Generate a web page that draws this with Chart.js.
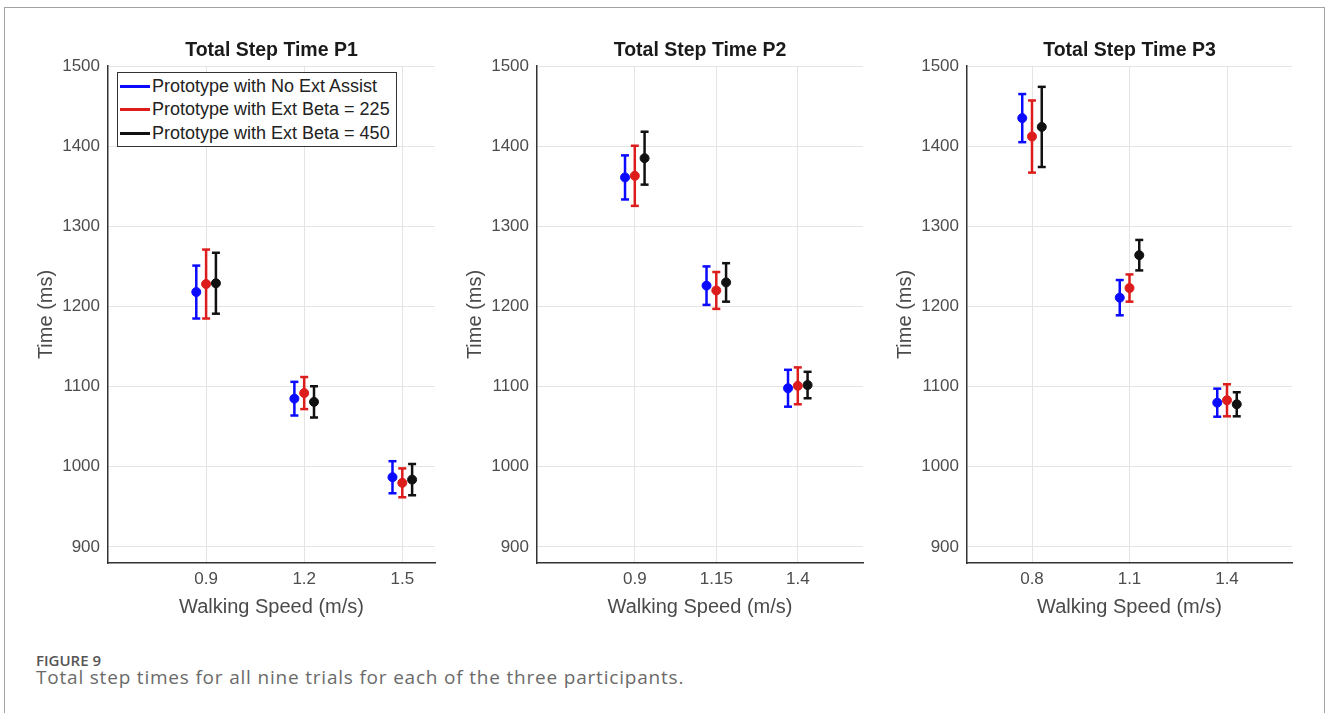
<!DOCTYPE html>
<html>
<head>
<meta charset="utf-8">
<script src="https://cdn.jsdelivr.net/npm/chart.js@4.4.1/dist/chart.umd.min.js"></script>
<style>
  html, body { margin: 0; padding: 0; background: #fff; }
  body { width: 1328px; height: 713px; position: relative; overflow: hidden; }
  .frame {
    position: absolute; left: 4px; top: 7px; width: 1321px; height: 740px;
    border: 1.5px solid #a3a3a3; border-bottom: none; box-sizing: border-box;
  }
  canvas { position: absolute; top: 20px; }
  .legend {
    position: absolute; left: 117px; top: 72px; width: 280px; height: 75px;
    border: 1.5px solid #333; box-sizing: border-box; background: #fff;
    padding-top: 2px;
    font-family: "Liberation Sans", Arial, sans-serif; font-size: 18px; color: #222;
  }
  .legend .row { height: 23.3px; display: flex; align-items: center; white-space: nowrap; }
  .legend .swatch { width: 30px; height: 3px; margin-left: 2px; margin-right: 2px; }
  .fig-label {
    position: absolute; left: 36px; top: 650px;
    font-family: "Open Sans", sans-serif; font-size: 15px; font-weight: 600; color: #555;
  }
  .fig-caption {
    position: absolute; left: 36px; top: 664px; white-space: nowrap;
    font-family: "Open Sans", sans-serif; font-size: 19px; letter-spacing: 0.8px; color: #6a6a6a;
  }
</style>
</head>
<body>
<div class="frame"></div>
<canvas id="p1" width="425" height="620" style="left:20px"></canvas>
<canvas id="p2" width="424" height="620" style="left:449px"></canvas>
<canvas id="p3" width="423" height="620" style="left:879px"></canvas>
<div class="legend" id="legend"></div>
<div class="fig-label">FIGURE 9</div>
<div class="fig-caption">Total step times for all nine trials for each of the three participants.</div>

<script>
// series names
const seriesNames = ['Prototype with No Ext Assist', 'Prototype with Ext Beta = 225', 'Prototype with Ext Beta = 450'];
const seriesColors = ['#0a0aff', '#dd1c1c', '#111111'];

// walking speeds (m/s) per participant
const speedsP1 = [0.9, 1.2, 1.5];
const speedsP2 = [0.9, 1.15, 1.4];
const speedsP3 = [0.8, 1.1, 1.4];

// mean total step time (ms) and error (+/- ms)
const noAssistP1 = [1218, 1085, 987];
const noAssistErrP1 = [33, 21, 20];
const beta225P1 = [1228, 1092, 980];
const beta225ErrP1 = [43, 20, 18];
const beta450P1 = [1229, 1081, 984];
const beta450ErrP1 = [38, 19.5, 19.5];

const noAssistP2 = [1361, 1226, 1098];
const noAssistErrP2 = [27.5, 24, 23];
const beta225P2 = [1363, 1220, 1101];
const beta225ErrP2 = [37.5, 23, 23];
const beta450P2 = [1385, 1230, 1102];
const beta450ErrP2 = [33, 24, 16.5];

const noAssistP3 = [1435, 1211, 1080];
const noAssistErrP3 = [30, 22, 17.5];
const beta225P3 = [1412, 1223, 1083];
const beta225ErrP3 = [45, 17, 20];
const beta450P3 = [1424, 1264, 1078];
const beta450ErrP3 = [50, 19, 15];

// y axis ticks
const timeTicks = [900, 1000, 1100, 1200, 1300, 1400, 1500];

const FONT = '"Liberation Sans", Arial, sans-serif';
const DODGE = 0.03;

function buildDatasets(speeds, means, errs) {
  const sets = [];
  means.forEach((vals, s) => {
    const off = (s - 1) * DODGE;
    const bars = [];
    speeds.forEach((sp, i) => {
      bars.push({ x: sp + off, y: vals[i] - errs[s][i] });
      bars.push({ x: sp + off, y: vals[i] + errs[s][i] });
      bars.push({ x: sp + off, y: null });
    });
    sets.push({
      type: 'line',
      label: seriesNames[s] + ' error',
      data: bars,
      borderColor: seriesColors[s],
      borderWidth: 2.5,
      spanGaps: false,
      pointStyle: 'line',
      pointRadius: 4,
      pointBorderWidth: 2.5,
      pointBorderColor: seriesColors[s],
      order: 2
    });
    sets.push({
      type: 'line',
      label: seriesNames[s],
      data: speeds.map((sp, i) => ({ x: sp + off, y: vals[i] })),
      showLine: false,
      pointStyle: 'circle',
      pointRadius: 4.5,
      pointBackgroundColor: seriesColors[s],
      pointBorderColor: seriesColors[s],
      pointBorderWidth: 1,
      order: 1
    });
  });
  return sets;
}

function createPanel(id, title, speeds, means, errs) {
  const ctx = document.getElementById(id);
  new Chart(ctx, {
    data: { datasets: buildDatasets(speeds, means, errs) },
    options: {
      responsive: false,
      animation: false,
      layout: { padding: { right: 10 } },
      plugins: {
        legend: { display: false },
        tooltip: { enabled: false },
        title: {
          display: true,
          text: title,
          fullSize: false,
          color: '#1a1a1a',
          font: { family: FONT, size: 19.5, weight: 'bold' },
          padding: { top: 19.3, bottom: 3.3 }
        }
      },
      scales: {
        x: {
          type: 'linear',
          min: 0.6,
          max: 1.6,
          afterBuildTicks: (axis) => { axis.ticks = speeds.map(v => ({ value: v })); },
          afterFit: (axis) => { axis.height = 77; },
          grid: { color: '#e4e4e4', lineWidth: 1, drawTicks: false },
          border: { display: true, color: '#333', width: 1.5 },
          ticks: {
            color: '#4d4d4d',
            padding: 6,
            font: { family: FONT, size: 17 },
            callback: (v) => String(v)
          },
          title: {
            display: true,
            text: 'Walking Speed (m/s)',
            color: '#4a4a4a',
            font: { family: FONT, size: 20 },
            padding: { top: 0, bottom: 21 }
          }
        },
        y: {
          min: 880,
          max: 1500,
          afterBuildTicks: (axis) => { axis.ticks = timeTicks.map(v => ({ value: v })); },
          afterFit: (axis) => { axis.width = 88; },
          grid: { color: '#e4e4e4', lineWidth: 1, drawTicks: false },
          border: { display: true, color: '#333', width: 1.5 },
          ticks: {
            color: '#4d4d4d',
            padding: 8,
            font: { family: FONT, size: 17 },
            callback: (v) => String(v)
          },
          title: {
            display: true,
            text: 'Time (ms)',
            color: '#4a4a4a',
            font: { family: FONT, size: 20 },
            padding: { top: 14, bottom: 0 }
          }
        }
      }
    }
  });
}

function buildLegend() {
  const box = document.getElementById('legend');
  seriesNames.forEach((name, s) => {
    const row = document.createElement('div');
    row.className = 'row';
    const sw = document.createElement('span');
    sw.className = 'swatch';
    sw.style.background = seriesColors[s];
    const txt = document.createElement('span');
    txt.textContent = name;
    row.appendChild(sw);
    row.appendChild(txt);
    box.appendChild(row);
  });
}

createPanel('p1', 'Total Step Time P1', speedsP1,
  [noAssistP1, beta225P1, beta450P1], [noAssistErrP1, beta225ErrP1, beta450ErrP1]);
createPanel('p2', 'Total Step Time P2', speedsP2,
  [noAssistP2, beta225P2, beta450P2], [noAssistErrP2, beta225ErrP2, beta450ErrP2]);
createPanel('p3', 'Total Step Time P3', speedsP3,
  [noAssistP3, beta225P3, beta450P3], [noAssistErrP3, beta225ErrP3, beta450ErrP3]);
buildLegend();
</script>
</body>
</html>
